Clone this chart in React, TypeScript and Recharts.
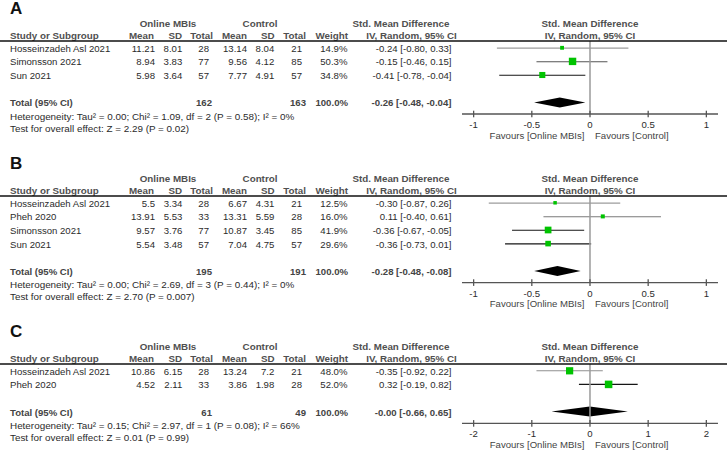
import React from "react";
import { ComposedChart, Bar, Scatter, XAxis, YAxis, ReferenceLine } from "recharts";

// ---- panel A: all studies ----
const studiesA = ["Hosseinzadeh Asl 2021", "Simonsson 2021", "Sun 2021"];
const onlineMeanA = [11.21, 8.94, 5.98];
const onlineSdA = [8.01, 3.83, 3.64];
const onlineNA = [28, 77, 57];
const controlMeanA = [13.14, 9.56, 7.77];
const controlSdA = [8.04, 4.12, 4.91];
const controlNA = [21, 85, 57];
const weightA = [14.9, 50.3, 34.8];
const smdA = [-0.24, -0.15, -0.41];
const lowerA = [-0.8, -0.46, -0.78];
const upperA = [0.33, 0.15, -0.04];
const totalA = { onlineN: 162, controlN: 163, weight: 100, smd: -0.26, lower: -0.48, upper: -0.04 };
const hetA = "Tau² = 0.00; Chi² = 1.09, df = 2 (P = 0.58); I² = 0%";
const effectA = "Z = 2.29 (P = 0.02)";

// ---- panel B ----
const studiesB = ["Hosseinzadeh Asl 2021", "Pheh 2020", "Simonsson 2021", "Sun 2021"];
const onlineMeanB = [5.5, 13.91, 9.57, 5.54];
const onlineSdB = [3.34, 5.53, 3.76, 3.48];
const onlineNB = [28, 33, 77, 57];
const controlMeanB = [6.67, 13.31, 10.87, 7.04];
const controlSdB = [4.31, 5.59, 3.45, 4.75];
const controlNB = [21, 28, 85, 57];
const weightB = [12.5, 16.0, 41.9, 29.6];
const smdB = [-0.3, 0.11, -0.36, -0.36];
const lowerB = [-0.87, -0.4, -0.67, -0.73];
const upperB = [0.26, 0.61, -0.05, 0.01];
const totalB = { onlineN: 195, controlN: 191, weight: 100, smd: -0.28, lower: -0.48, upper: -0.08 };
const hetB = "Tau² = 0.00; Chi² = 2.69, df = 3 (P = 0.44); I² = 0%";
const effectB = "Z = 2.70 (P = 0.007)";

// ---- panel C ----
const studiesC = ["Hosseinzadeh Asl 2021", "Pheh 2020"];
const onlineMeanC = [10.86, 4.52];
const onlineSdC = [6.15, 2.11];
const onlineNC = [28, 33];
const controlMeanC = [13.24, 3.86];
const controlSdC = [7.2, 1.98];
const controlNC = [21, 28];
const weightC = [48.0, 52.0];
const smdC = [-0.35, 0.32];
const lowerC = [-0.92, -0.19];
const upperC = [0.22, 0.82];
const totalC = { onlineN: 61, controlN: 49, weight: 100, smd: -0.004, lower: -0.66, upper: 0.65 };
const hetC = "Tau² = 0.15; Chi² = 2.97, df = 1 (P = 0.08); I² = 66%";
const effectC = "Z = 0.01 (P = 0.99)";

const ticksAB = [-1, -0.5, 0, 0.5, 1];
const ticksC = [-2, -1, 0, 1, 2];

// styling / layout
const FONT = "'Liberation Sans', Arial, Helvetica, sans-serif";
const W = 727;
const BAND = 13.6;
const TOP = 41;
const PAD_BOTTOM = 5;
const AXIS_H = 30;
const PLOT_LEFT = 462;
const RIGHT = 9;
const PLOT_MID = PLOT_LEFT + (W - RIGHT - PLOT_LEFT) / 2;
const BODY = "#2b2b2b";
const HEAD = "#505050";
const GREEN = "#00c300";

const strokeA = ["#9c9c9c", "#555555", "#161616"];
const strokeB = ["#9c9c9c", "#7a7a7a", "#161616", "#161616"];
const strokeC = ["#8f8f8f", "#161616"];

const fmt = (v: number) => v.toFixed(2);

function buildPanel(
  letter: string,
  top: number,
  studies: string[],
  om: number[], osd: number[], on: number[],
  cm: number[], csd: number[], cn: number[],
  w: number[], smd: number[], lo: number[], hi: number[],
  total: any, het: string, effect: string, ticks: number[], strokes: string[]
) {
  const rows: any[] = studies.map((s, i) => ({
    key: s,
    kind: "study",
    om: om[i], osd: osd[i], on: on[i],
    cm: cm[i], csd: csd[i], cn: cn[i],
    weight: w[i],
    est: smd[i],
    lower: lo[i],
    upper: hi[i],
    range: [lo[i], hi[i]],
    stroke: strokes[i],
  }));
  rows.push({ key: "__blank", kind: "blank" });
  rows.push({
    key: "Total (95% CI)",
    kind: "total",
    on: total.onlineN,
    cn: total.controlN,
    weight: total.weight,
    est: total.smd,
    lower: total.lower,
    upper: total.upper,
    range: [total.lower, total.upper],
  });
  const lim = Math.max(...ticks) * 1.1;
  return { letter, top, rows, het, effect, ticks, domain: [-lim, lim] as [number, number] };
}

const panels = [
  buildPanel("A", 0, studiesA, onlineMeanA, onlineSdA, onlineNA, controlMeanA, controlSdA, controlNA,
    weightA, smdA, lowerA, upperA, totalA, hetA, effectA, ticksAB, strokeA),
  buildPanel("B", 155, studiesB, onlineMeanB, onlineSdB, onlineNB, controlMeanB, controlSdB, controlNB,
    weightB, smdB, lowerB, upperB, totalB, hetB, effectB, ticksAB, strokeB),
  buildPanel("C", 323, studiesC, onlineMeanC, onlineSdC, onlineNC, controlMeanC, controlSdC, controlNC,
    weightC, smdC, lowerC, upperC, totalC, hetC, effectC, ticksC, strokeC),
];

const ciText = (r: any) => `${fmt(r.est)} [${fmt(r.lower)}, ${fmt(r.upper)}]`;

function RowTick(props: any) {
  const { y, payload, rows } = props;
  const row = rows.find((r: any) => r.key === payload.value);
  if (!row || row.kind === "blank") return <g />;
  const ty = y + 4;
  if (row.kind === "total") {
    return (
      <g fontFamily={FONT} fontSize={9.6} fontWeight="bold" fill="#444">
        <text x={10} y={ty}>{row.key}</text>
        <text x={212} y={ty} textAnchor="end">{row.on}</text>
        <text x={306} y={ty} textAnchor="end">{row.cn}</text>
        <text x={348} y={ty} textAnchor="end">{row.weight.toFixed(1)}%</text>
        <text x={451.5} y={ty} textAnchor="end">{ciText(row)}</text>
      </g>
    );
  }
  return (
    <g fontFamily={FONT} fontSize={9.6} fill={BODY}>
      <text x={10} y={ty}>{row.key}</text>
      <text x={155} y={ty} textAnchor="end">{String(row.om)}</text>
      <text x={182.3} y={ty} textAnchor="end">{String(row.osd)}</text>
      <text x={209} y={ty} textAnchor="end">{row.on}</text>
      <text x={247} y={ty} textAnchor="end">{String(row.cm)}</text>
      <text x={274.3} y={ty} textAnchor="end">{String(row.csd)}</text>
      <text x={302} y={ty} textAnchor="end">{row.cn}</text>
      <text x={347.5} y={ty} textAnchor="end">{row.weight.toFixed(1)}%</text>
      <text x={451.5} y={ty} textAnchor="end">{ciText(row)}</text>
    </g>
  );
}

function AxisTick(props: any) {
  const { x, y, payload } = props;
  return (
    <g fontFamily={FONT} fill={BODY}>
      <line x1={x} x2={x} y1={y - 3.3} y2={y + 3.3} stroke="#555" strokeWidth={1.3} />
      <text x={x} y={y + 14} textAnchor="middle" fontSize={9.6}>{String(payload.value)}</text>
      {payload.value === 0 && (
        <>
          <text x={x - 5.5} y={y + 24.5} textAnchor="end" fontSize={9.6} fill="#444">Favours [Online MBIs]</text>
          <text x={x + 5} y={y + 24.5} textAnchor="start" fontSize={9.6} fill="#444">Favours [Control]</text>
        </>
      )}
    </g>
  );
}

function RangeShape(props: any) {
  const { x, y, width, height, payload } = props;
  if (!payload || !payload.range || x == null || isNaN(x)) return <g />;
  const cy = y + height / 2;
  if (payload.kind === "total") {
    const [lo, hi] = payload.range;
    const mid = x + (width * (payload.est - lo)) / (hi - lo);
    const h = 5;
    return (
      <polygon
        points={`${x},${cy} ${mid},${cy - h} ${x + width},${cy} ${mid},${cy + h}`}
        fill="#000"
      />
    );
  }
  return <line x1={x} x2={x + width} y1={cy} y2={cy} stroke={payload.stroke} strokeWidth={1.1} />;
}

function SquareShape(props: any) {
  const { cx, cy, payload } = props;
  if (!payload || payload.kind !== "study" || cx == null || isNaN(cx)) return <g />;
  const s = Math.max(3, 1.1 * Math.sqrt(payload.weight) - 0.4);
  return <rect x={cx - s / 2} y={cy - s / 2} width={s} height={s} fill={GREEN} />;
}

function Panel({ p }: { p: any }) {
  const height = TOP + p.rows.length * BAND + PAD_BOTTOM + AXIS_H;
  return (
    <div style={{ position: "absolute", left: 0, top: p.top }}>
      <ComposedChart
        layout="vertical"
        width={W}
        height={height}
        data={p.rows}
        margin={{ top: TOP, right: RIGHT, bottom: 0, left: 0 }}
      >
        <XAxis
          type="number"
          domain={p.domain}
          ticks={p.ticks}
          allowDataOverflow
          interval={0}
          height={AXIS_H}
          axisLine={{ stroke: "#555", strokeWidth: 1.3 }}
          tickLine={false}
          tickSize={0}
          tickMargin={0}
          tick={(t: any) => <AxisTick {...t} />}
        />
        <YAxis
          type="category"
          dataKey="key"
          width={PLOT_LEFT}
          interval={0}
          axisLine={false}
          tickLine={false}
          padding={{ top: 0, bottom: PAD_BOTTOM }}
          tick={(t: any) => <RowTick {...t} rows={p.rows} />}
        />
        <ReferenceLine x={0} stroke="#9a9a9a" strokeWidth={1.5} />
        <Bar dataKey="range" barSize={BAND} shape={RangeShape} isAnimationActive={false} />
        <Scatter dataKey="est" shape={SquareShape} isAnimationActive={false} />
      </ComposedChart>
    </div>
  );
}

function Overlay({ p }: { p: any }) {
  const y0 = p.top + TOP;
  const axisY = y0 + p.rows.length * BAND + PAD_BOTTOM;
  const h1 = y0 - 14;
  const h2 = y0 - 2;
  return (
    <g fontFamily={FONT}>
      <text x={10} y={y0 - 27} fontSize={17} fontWeight="bold" fill="#111">{p.letter}</text>
      <g fontSize={9.8} fontWeight="bold" fill={HEAD}>
        <text x={168} y={h1} textAnchor="middle">Online MBIs</text>
        <text x={260} y={h1} textAnchor="middle">Control</text>
        <text x={401} y={h1} textAnchor="middle">Std. Mean Difference</text>
        <text x={PLOT_MID} y={h1} textAnchor="middle">Std. Mean Difference</text>
        <text x={10} y={h2}>Study or Subgroup</text>
        <text x={154} y={h2} textAnchor="end">Mean</text>
        <text x={182} y={h2} textAnchor="end">SD</text>
        <text x={213} y={h2} textAnchor="end">Total</text>
        <text x={247} y={h2} textAnchor="end">Mean</text>
        <text x={274.5} y={h2} textAnchor="end">SD</text>
        <text x={306} y={h2} textAnchor="end">Total</text>
        <text x={348} y={h2} textAnchor="end">Weight</text>
        <text x={411.5} y={h2} textAnchor="middle">IV, Random, 95% CI</text>
        <text x={PLOT_MID} y={h2} textAnchor="middle">IV, Random, 95% CI</text>
      </g>
      <line x1={0} x2={W} y1={y0} y2={y0} stroke="#111" strokeWidth={1.3} />
      <g fontSize={9.9} fill={BODY}>
        <text x={10} y={axisY + 5.5}>Heterogeneity: {p.het}</text>
        <text x={10} y={axisY + 17.5}>Test for overall effect: {p.effect}</text>
      </g>
    </g>
  );
}

export default function App() {
  return (
    <div
      style={{
        position: "absolute",
        left: 0,
        top: 0,
        width: W,
        height: 450,
        background: "#fff",
        overflow: "hidden",
      }}
    >
      {panels.map((p) => (
        <Panel key={p.letter} p={p} />
      ))}
      <svg
        width={W}
        height={450}
        style={{ position: "absolute", left: 0, top: 0, pointerEvents: "none" }}
      >
        {panels.map((p) => (
          <Overlay key={p.letter} p={p} />
        ))}
      </svg>
    </div>
  );
}
